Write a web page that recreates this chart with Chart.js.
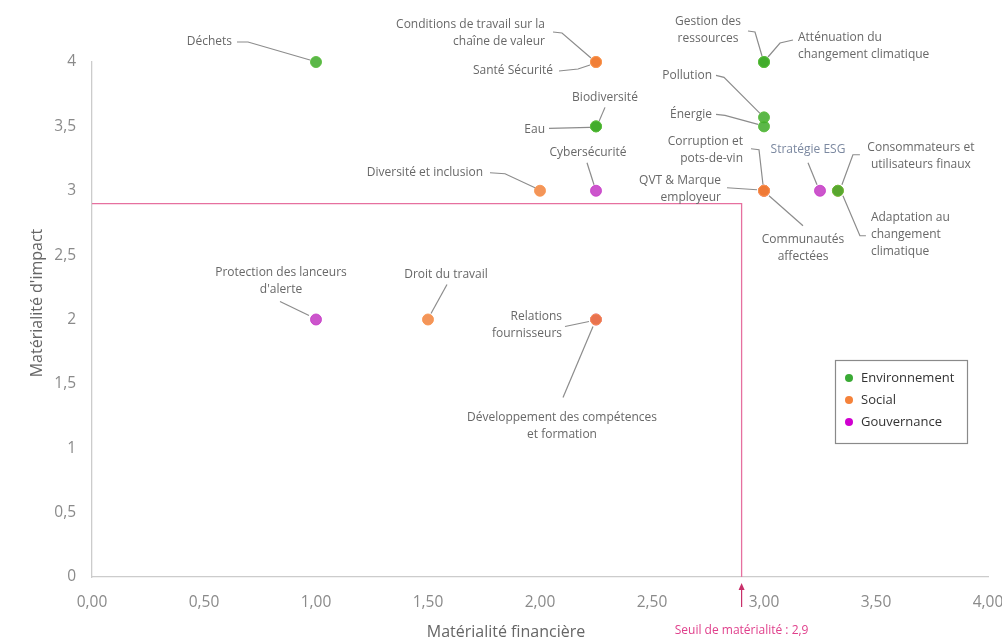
<!DOCTYPE html>
<html lang="fr">
<head>
<meta charset="utf-8">
<title>Matrice de double matérialité</title>
<script src="https://cdn.jsdelivr.net/npm/chart.js@4.4.1/dist/chart.umd.min.js"></script>
<style>
  html, body { margin: 0; padding: 0; background: #ffffff; }
  #wrap { width: 1002px; height: 643px; position: relative; }
</style>
</head>
<body>
<div id="wrap"><canvas id="matrice" width="1002" height="643"></canvas></div>
<script>
// Pillars (one dataset each)
const piliers = ['Environnement', 'Social', 'Gouvernance'];

// Environnement: enjeux, financial materiality (x), impact materiality (y)
const enjeuxEnv = ['Déchets', 'Gestion des ressources', 'Atténuation du changement climatique', 'Pollution', 'Énergie', 'Biodiversité', 'Eau', 'Adaptation au changement climatique'];
const financiereEnv = [1.00, 3.00, 3.00, 3.00, 3.00, 2.25, 2.25, 3.33];
const impactEnv = [4.0, 4.0, 4.0, 3.57, 3.5, 3.5, 3.5, 3.0];

// Social
const enjeuxSoc = ['Conditions de travail sur la chaîne de valeur', 'Santé Sécurité', 'Diversité et inclusion', 'QVT & Marque employeur', 'Communautés affectées', 'Consommateurs et utilisateurs finaux', 'Droit du travail', 'Développement des compétences et formation'];
const financiereSoc = [2.25, 2.25, 2.00, 3.00, 3.00, 3.33, 1.50, 2.25];
const impactSoc = [4.0, 4.0, 3.0, 3.0, 3.0, 3.0, 2.0, 2.0];

// Gouvernance
const enjeuxGouv = ['Cybersécurité', 'Corruption et pots-de-vin', 'Stratégie ESG', "Protection des lanceurs d'alerte", 'Relations fournisseurs'];
const financiereGouv = [2.25, 3.00, 3.25, 1.00, 2.25];
const impactGouv = [3.0, 3.0, 3.0, 2.0, 2.0];

// Axis tick labels (French decimal comma)
const xTickLabels = ['0,00', '0,50', '1,00', '1,50', '2,00', '2,50', '3,00', '3,50', '4,00'];
const yTickLabels = ['0', '0,5', '1', '1,5', '2', '2,5', '3', '3,5', '4'];

// Materiality threshold
const seuilMaterialite = 2.9;

// ---------------------------------------------------------------------------
// Presentation
const FONT = "'Open Sans', 'DejaVu Sans', sans-serif";
const couleurs = {
  Environnement: { point: 'rgba(62,170,40,0.85)', bord: 'rgba(90,190,60,0.9)', legende: '#3aaa35' },
  Social:        { point: 'rgba(240,122,48,0.80)', bord: 'rgba(250,150,80,0.9)', legende: '#f5823a' },
  Gouvernance:   { point: 'rgba(185,20,185,0.72)', bord: 'rgba(200,60,200,0.85)', legende: '#d000d0' }
};

// Callout placement relative to each point (pixels): text anchor, line wrapping, leader polyline
const etiquettes = {
  'Déchets': { lines: ['Déchets'], align: 'right', dx: -84, dy: -20, leader: [[-79, -20], [-68, -20], [-6, -2]] },
  'Conditions de travail sur la chaîne de valeur': { lines: ['Conditions de travail sur la', 'chaîne de valeur'], align: 'right', dx: -51, dy: -37, leader: [[-43, -30], [-34, -29], [-5, -4]] },
  'Santé Sécurité': { lines: ['Santé Sécurité'], align: 'right', dx: -43, dy: 9, leader: [[-37, 9], [-18, 7], [-6, 3]] },
  'Gestion des ressources': { lines: ['Gestion des', 'ressources'], align: 'center', dx: -56, dy: -40, leader: [[-16, -31], [-9, -30], [-2, -6]] },
  'Atténuation du changement climatique': { lines: ['Atténuation du', 'changement climatique'], align: 'left', dx: 34, dy: -24, leader: [[29, -22], [16, -19], [4, -5]] },
  'Pollution': { lines: ['Pollution'], align: 'right', dx: -52, dy: -42, leader: [[-48, -42], [-40, -40], [-4, -4]] },
  'Énergie': { lines: ['Énergie'], align: 'right', dx: -52, dy: -12, leader: [[-48, -12], [-39, -11], [-6, -2]] },
  'Biodiversité': { lines: ['Biodiversité'], align: 'center', dx: 9, dy: -29, leader: [[9, -19], [3, -5]] },
  'Eau': { lines: ['Eau'], align: 'right', dx: -51, dy: 3, leader: [[-47, 2], [-6, 1]] },
  'Cybersécurité': { lines: ['Cybersécurité'], align: 'center', dx: -8, dy: -38, leader: [[-9, -28], [-2, -6]] },
  'Diversité et inclusion': { lines: ['Diversité et inclusion'], align: 'right', dx: -57, dy: -18, leader: [[-50, -18], [-35, -17], [-5, -3]] },
  'Corruption et pots-de-vin': { lines: ['Corruption et', 'pots-de-vin'], align: 'right', dx: -21, dy: -49, leader: [[-13, -42], [-5, -41], [-1, -6]] },
  'QVT & Marque employeur': { lines: ['QVT & Marque', 'employeur'], align: 'right', dx: -43, dy: -10, leader: [[-37, -3], [-7, -1]] },
  'Communautés affectées': { lines: ['Communautés', 'affectées'], align: 'center', dx: 39, dy: 49, leader: [[5, 5], [39, 35]] },
  'Stratégie ESG': { lines: ['Stratégie ESG'], align: 'center', dx: -12, dy: -41, leader: [[-12, -28], [-3, -6]], color: '#7b88a0' },
  'Consommateurs et utilisateurs finaux': { lines: ['Consommateurs et', 'utilisateurs finaux'], align: 'center', dx: 83, dy: -43, leader: [[22, -36], [15, -36], [4, -6]] },
  'Adaptation au changement climatique': { lines: ['Adaptation au', 'changement', 'climatique'], align: 'left', dx: 33, dy: 27, leader: [[5, 5], [22, 45], [28, 45]] },
  "Protection des lanceurs d'alerte": { lines: ['Protection des lanceurs', "d'alerte"], align: 'center', dx: -35, dy: -47, leader: [[-36, -18], [-7, -4]] },
  'Droit du travail': { lines: ['Droit du travail'], align: 'center', dx: 18, dy: -45, leader: [[19, -35], [3, -6]] },
  'Relations fournisseurs': { lines: ['Relations', 'fournisseurs'], align: 'right', dx: -34, dy: -3, leader: [[-31, 7], [-7, 2]] },
  'Développement des compétences et formation': { lines: ['Développement des compétences', 'et formation'], align: 'center', dx: -34, dy: 98, leader: [[-33, 78], [-3, 7]] }
};

function serie(noms, xs, ys) {
  return noms.map((nom, i) => ({ x: xs[i], y: ys[i], nom: nom }));
}

const series = [
  serie(enjeuxEnv, financiereEnv, impactEnv),
  serie(enjeuxSoc, financiereSoc, impactSoc),
  serie(enjeuxGouv, financiereGouv, impactGouv)
];

const datasets = piliers.map((p, i) => ({
  label: p,
  data: series[i],
  clip: false,
  pointRadius: 5.5,
  pointHoverRadius: 5.5,
  pointBorderWidth: 1,
  backgroundColor: couleurs[p].point,
  borderColor: couleurs[p].bord,
  legendColor: couleurs[p].legende
}));

// Threshold lines, callouts, legend, axis titles
const decor = {
  id: 'decor',
  beforeDatasetsDraw(chart) {
    const { ctx, chartArea, scales } = chart;
    const sx = scales.x.getPixelForValue(seuilMaterialite);
    const sy = scales.y.getPixelForValue(seuilMaterialite);
    ctx.save();
    ctx.strokeStyle = '#e6709f';
    ctx.lineWidth = 1.3;
    ctx.beginPath();
    ctx.moveTo(chartArea.left, sy);
    ctx.lineTo(sx, sy);
    ctx.lineTo(sx, chartArea.bottom);
    ctx.stroke();

    // leader lines
    ctx.strokeStyle = '#8c8c8c';
    ctx.lineWidth = 1.2;
    chart.data.datasets.forEach((ds, di) => {
      const meta = chart.getDatasetMeta(di);
      ds.data.forEach((pt, i) => {
        const lab = etiquettes[pt.nom];
        if (!lab) return;
        const el = meta.data[i];
        ctx.beginPath();
        lab.leader.forEach((p, k) => {
          const X = el.x + p[0], Y = el.y + p[1];
          if (k === 0) ctx.moveTo(X, Y); else ctx.lineTo(X, Y);
        });
        ctx.stroke();
      });
    });
    ctx.restore();
  },
  afterDatasetsDraw(chart) {
    const { ctx } = chart;
    ctx.save();
    ctx.font = '12px ' + FONT;
    ctx.textBaseline = 'middle';
    chart.data.datasets.forEach((ds, di) => {
      const meta = chart.getDatasetMeta(di);
      ds.data.forEach((pt, i) => {
        const lab = etiquettes[pt.nom];
        if (!lab) return;
        const el = meta.data[i];
        ctx.fillStyle = lab.color || '#686868';
        ctx.textAlign = lab.align;
        lab.lines.forEach((t, k) => {
          ctx.fillText(t, el.x + lab.dx, el.y + lab.dy + k * 17);
        });
      });
    });
    ctx.restore();
  },
  afterDraw(chart) {
    const { ctx, chartArea, scales } = chart;
    const sx = scales.x.getPixelForValue(seuilMaterialite);
    ctx.save();

    // threshold arrow and caption
    ctx.strokeStyle = '#c8306a';
    ctx.fillStyle = '#c8306a';
    ctx.lineWidth = 1.2;
    ctx.beginPath();
    ctx.moveTo(sx, chartArea.bottom + 30);
    ctx.lineTo(sx, chartArea.bottom + 10);
    ctx.stroke();
    ctx.beginPath();
    ctx.moveTo(sx, chartArea.bottom + 6);
    ctx.lineTo(sx - 3, chartArea.bottom + 13);
    ctx.lineTo(sx + 3, chartArea.bottom + 13);
    ctx.closePath();
    ctx.fill();
    ctx.fillStyle = '#e0408c';
    ctx.font = '12px ' + FONT;
    ctx.textAlign = 'center';
    ctx.textBaseline = 'middle';
    ctx.fillText('Seuil de matérialité : ' + String(seuilMaterialite).replace('.', ','), sx, 631);

    // axis titles
    ctx.fillStyle = '#666666';
    ctx.font = '16px ' + FONT;
    ctx.fillText('Matérialité financière', 506, 632);
    ctx.save();
    ctx.translate(37, 303);
    ctx.rotate(-Math.PI / 2);
    ctx.fillText("Matérialité d'impact", 0, 0);
    ctx.restore();

    // legend
    const bx = 835, by = 360, bw = 132, bh = 83;
    ctx.fillStyle = '#ffffff';
    ctx.fillRect(bx, by, bw, bh);
    ctx.strokeStyle = '#8a8a8a';
    ctx.lineWidth = 1.2;
    ctx.strokeRect(bx + 0.5, by + 0.5, bw, bh);
    ctx.font = '13px ' + FONT;
    ctx.textAlign = 'left';
    chart.data.datasets.forEach((ds, i) => {
      const y = by + 18 + i * 22;
      ctx.fillStyle = ds.legendColor;
      ctx.beginPath();
      ctx.arc(bx + 14, y, 4, 0, Math.PI * 2);
      ctx.fill();
      ctx.fillStyle = '#333333';
      ctx.fillText(ds.label, bx + 26, y);
    });
    ctx.restore();
  }
};

new Chart(document.getElementById('matrice'), {
  type: 'scatter',
  data: { datasets: datasets },
  options: {
    responsive: false,
    devicePixelRatio: 1,
    animation: false,
    events: [],
    layout: { padding: { left: 0, top: 62, right: 14, bottom: 0 } },
    scales: {
      x: {
        type: 'linear', min: 0, max: 4,
        grid: { display: false, drawTicks: false },
        border: { display: true, color: '#cccccc', width: 1.3 },
        ticks: {
          stepSize: 0.5, autoSkip: false, maxRotation: 0, padding: 16,
          color: '#8a8a8a', font: { family: FONT, size: 15.5 },
          callback: (v, i) => xTickLabels[i]
        },
        afterFit: s => { s.height = 66; s.paddingLeft = 0; s.paddingRight = 0; }
      },
      y: {
        type: 'linear', min: 0, max: 4,
        grid: { display: false, drawTicks: false },
        border: { display: true, color: '#cccccc', width: 1.3 },
        ticks: {
          stepSize: 0.5, padding: 16,
          color: '#8a8a8a', font: { family: FONT, size: 15.5 },
          callback: (v, i) => yTickLabels[i]
        },
        afterFit: s => { s.width = 92; s.paddingTop = 0; s.paddingBottom = 0; }
      }
    },
    plugins: { legend: { display: false }, tooltip: { enabled: false } }
  },
  plugins: [decor]
});
</script>
</body>
</html>
